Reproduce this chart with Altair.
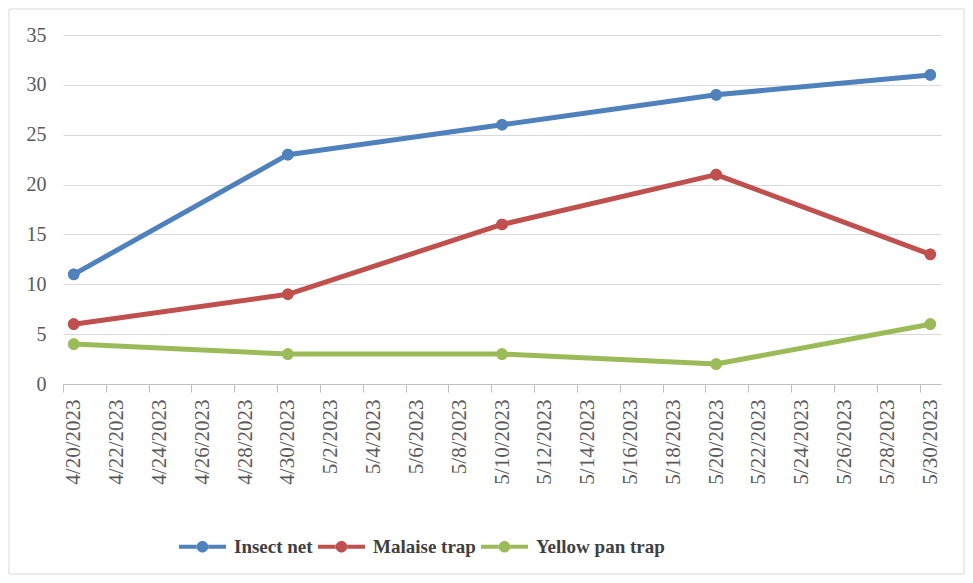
import altair as alt
import pandas as pd

series_names = ["Insect net", "Malaise trap", "Yellow pan trap"]
sample_dates = ["2023-04-20", "2023-04-30", "2023-05-10", "2023-05-20", "2023-05-30"]
insect_net = [11, 23, 26, 29, 31]
malaise_trap = [6, 9, 16, 21, 13]
yellow_pan_trap = [4, 3, 3, 2, 6]
series_colors = ["#4F81BD", "#C0504D", "#9BBB59"]
y_ticks = [0, 5, 10, 15, 20, 25, 30, 35]
tick_labels = ["4/20/2023", "4/22/2023", "4/24/2023", "4/26/2023", "4/28/2023",
               "4/30/2023", "5/2/2023", "5/4/2023", "5/6/2023", "5/8/2023",
               "5/10/2023", "5/12/2023", "5/14/2023", "5/16/2023", "5/18/2023",
               "5/20/2023", "5/22/2023", "5/24/2023", "5/26/2023", "5/28/2023",
               "5/30/2023"]

start = pd.Timestamp(sample_dates[0])
days = [(pd.Timestamp(d) - start).days for d in sample_dates]
rows = []
for name, vals in zip(series_names, [insect_net, malaise_trap, yellow_pan_trap]):
    for d, v in zip(days, vals):
        rows.append({"day": d, "value": v, "series": name})
df = pd.DataFrame(rows)

tick_days = list(range(0, 2 * len(tick_labels), 2))
label_array = "[" + ",".join("'" + t + "'" for t in tick_labels) + "]"

W, H = 878, 349
half_day = W / 41 / 2

FONT = "Liberation Serif"

x_enc = alt.X("day:Q",
              scale=alt.Scale(domain=[-0.5, 40.5], nice=False, zero=False),
              axis=alt.Axis(values=tick_days, title=None, grid=False,
                            labelExpr=label_array + "[round(datum.value/2)]",
                            labelAngle=270, labelAlign="right", labelBaseline="middle",
                            labelFont=FONT, labelFontSize=21, labelColor="#595959",
                            labelPadding=7, tickSize=8, tickColor="#bfbfbf",
                            domainColor="#bfbfbf", tickOffset=-half_day,
                            labelOffset=half_day, labelOverlap=False, labelFlush=False))
y_enc = alt.Y("value:Q",
              scale=alt.Scale(domain=[0, 35], nice=False),
              axis=alt.Axis(values=y_ticks, title=None, domain=False, ticks=False,
                            gridColor="#d9d9d9", gridWidth=1,
                            labelFont=FONT, labelFontSize=20, labelColor="#595959",
                            labelPadding=17))

symbol_path = ("M-4.27,-0.36L-1,-0.36L-1,0.36L-4.27,0.36Z"
               "M1,-0.36L4.27,-0.36L4.27,0.36L1,0.36Z"
               "M-1.05,0A1.05,1.05 0 1,0 1.05,0A1.05,1.05 0 1,0 -1.05,0Z")

legend = alt.Legend(title=None, orient="none", direction="horizontal",
                    legendX=130, legendY=502, symbolType=symbol_path,
                    symbolSize=121, symbolStrokeWidth=0, labelOffset=22,
                    columnPadding=5, labelFont=FONT, labelFontSize=19,
                    labelFontWeight="bold", labelColor="#404040", padding=0)

color_enc = alt.Color("series:N",
                      scale=alt.Scale(domain=series_names, range=series_colors),
                      legend=legend)

frame = alt.Chart(alt.Data(values=[{"f": 1}])).mark_rect(
    fill=None, stroke="#d9d9d9", strokeWidth=1
).encode(x=alt.value(-54), x2=alt.value(901), y=alt.value(-26), y2=alt.value(539))

points = alt.Chart(df).mark_circle(size=135, opacity=1).encode(
    x=x_enc, y=y_enc, color=color_enc)

lines = alt.Chart(df).mark_line(strokeWidth=5, strokeJoin="round", strokeCap="round").encode(
    x=x_enc, y=y_enc, color=color_enc, detail="series:N")

chart = alt.layer(frame, points, lines, points).properties(
    width=W, height=H, autosize="none",
    padding={"left": 55, "top": 27, "right": 24, "bottom": 191},
    background="white"
).configure_view(stroke=None)

chart.save("out.html", embed_options={"renderer": "svg", "actions": False})
